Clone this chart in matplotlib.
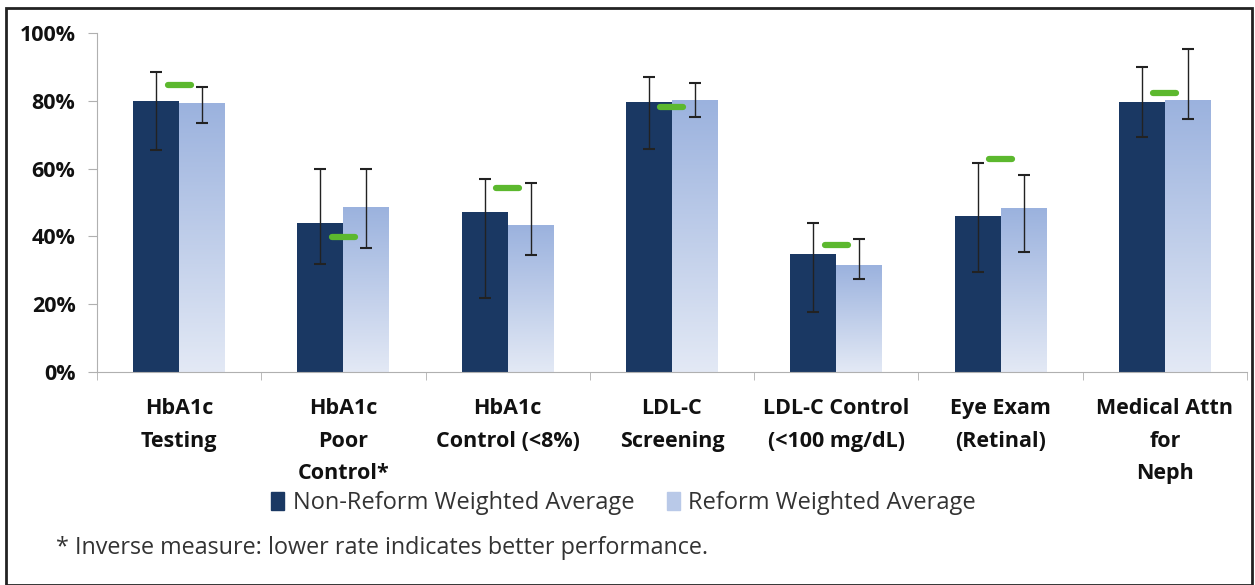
import numpy as np
import matplotlib
matplotlib.use("Agg")
import matplotlib.pyplot as plt
from matplotlib.patches import Patch, Rectangle

plt.rcParams['font.family'] = ['Open Sans', 'DejaVu Sans']

# Categories and values (percent)
categories = ["HbA1c\nTesting", "HbA1c\nPoor\nControl*", "HbA1c\nControl (<8%)",
              "LDL-C\nScreening", "LDL-C Control\n(<100 mg/dL)", "Eye Exam\n(Retinal)",
              "Medical Attn\nfor\nNeph"]
nonreform = [79.8, 44.0, 47.3, 79.5, 34.7, 46.0, 79.6]
reform = [79.3, 48.8, 43.3, 80.1, 31.5, 48.3, 80.1]
nonreform_hi = [88.4, 59.8, 56.9, 87.0, 43.9, 61.6, 90.0]
nonreform_lo = [65.5, 31.8, 21.9, 65.8, 17.7, 29.5, 69.4]
reform_hi = [84.0, 60.0, 55.7, 85.3, 39.1, 58.1, 95.3]
reform_lo = [73.4, 36.6, 34.5, 75.2, 27.3, 35.5, 74.7]
benchmark = [84.7, 39.7, 54.4, 78.3, 37.4, 62.9, 82.3]

dark = "#1a3863"
light_top = "#9bb2de"
light_bottom = "#e3e9f5"

fig = plt.figure(figsize=(12.55, 5.85), dpi=100)
ax = fig.add_axes([0.0773, 0.364, 0.9163, 0.5797])

x = np.arange(len(categories))
w = 0.28

ax.set_xlim(-0.5, len(categories) - 0.5)
ax.set_ylim(0, 100)

ax.bar(x - w / 2, nonreform, w, color=dark, zorder=2)

# light bars with vertical gradient
grad = np.linspace(0, 1, 256).reshape(-1, 1)
cmap = matplotlib.colors.LinearSegmentedColormap.from_list("g", [light_bottom, light_top])
bars = ax.bar(x + w / 2, reform, w, color="none", zorder=2)
for b in bars:
    x0, h = b.get_x(), b.get_height()
    im = ax.imshow(grad, cmap=cmap, aspect="auto", origin="lower",
                   extent=[x0, x0 + b.get_width(), 0, h], zorder=2)
    im.set_clip_path(b)

nr = np.array(nonreform)
rf = np.array(reform)
ax.errorbar(x - w / 2, nr, yerr=[nr - np.array(nonreform_lo), np.array(nonreform_hi) - nr],
            fmt="none", ecolor="#222222", elinewidth=1, capsize=4, capthick=1.5, zorder=3)
ax.errorbar(x + w / 2, rf, yerr=[rf - np.array(reform_lo), np.array(reform_hi) - rf],
            fmt="none", ecolor="#222222", elinewidth=1, capsize=4, capthick=1.5, zorder=3)

# green benchmark dashes
ax.hlines(benchmark, x - 0.07, x + 0.07, color="#5cb82e", linewidth=4.5,
          capstyle="round", zorder=4)

ax.set_yticks([0, 20, 40, 60, 80, 100])
ax.set_yticklabels(["0%", "20%", "40%", "60%", "80%", "100%"],
                   fontsize=15.5, fontweight="bold", color="#111111")
ax.set_xticks(x)
ax.set_xticklabels(categories, fontsize=15.5, fontweight="bold", color="#111111",
                   linespacing=1.72, va="top")
ax.tick_params(axis="x", length=0, pad=19)
ax.set_xticks(np.arange(len(categories) + 1) - 0.5, minor=True)
ax.tick_params(axis="x", which="minor", length=6, color="#b0b0b0")
ax.tick_params(axis="y", length=6.5, color="#b0b0b0", pad=9)

for s in ["top", "right"]:
    ax.spines[s].set_visible(False)
ax.spines["left"].set_color("#b0b0b0")
ax.spines["bottom"].set_color("#b0b0b0")

handles = [Patch(color=dark, label="Non-Reform Weighted Average"),
           Patch(color="#b9c9e8", label="Reform Weighted Average")]
fig.legend(handles=handles, loc="center", bbox_to_anchor=(0.497, 0.14), ncol=2,
           frameon=False, fontsize=17, handlelength=0.55, handleheight=0.75,
           handletextpad=0.35, columnspacing=1.4, labelcolor="#333333")

fig.text(0.045, 0.063, "* Inverse measure: lower rate indicates better performance.",
         fontsize=16.8, color="#333333", va="center")

# outer frame
fig.patches.append(Rectangle((0.005, 0.0), 0.993, 0.986, transform=fig.transFigure,
                             fill=False, edgecolor="#222222", linewidth=2))

fig.savefig("out.png", dpi=100)
